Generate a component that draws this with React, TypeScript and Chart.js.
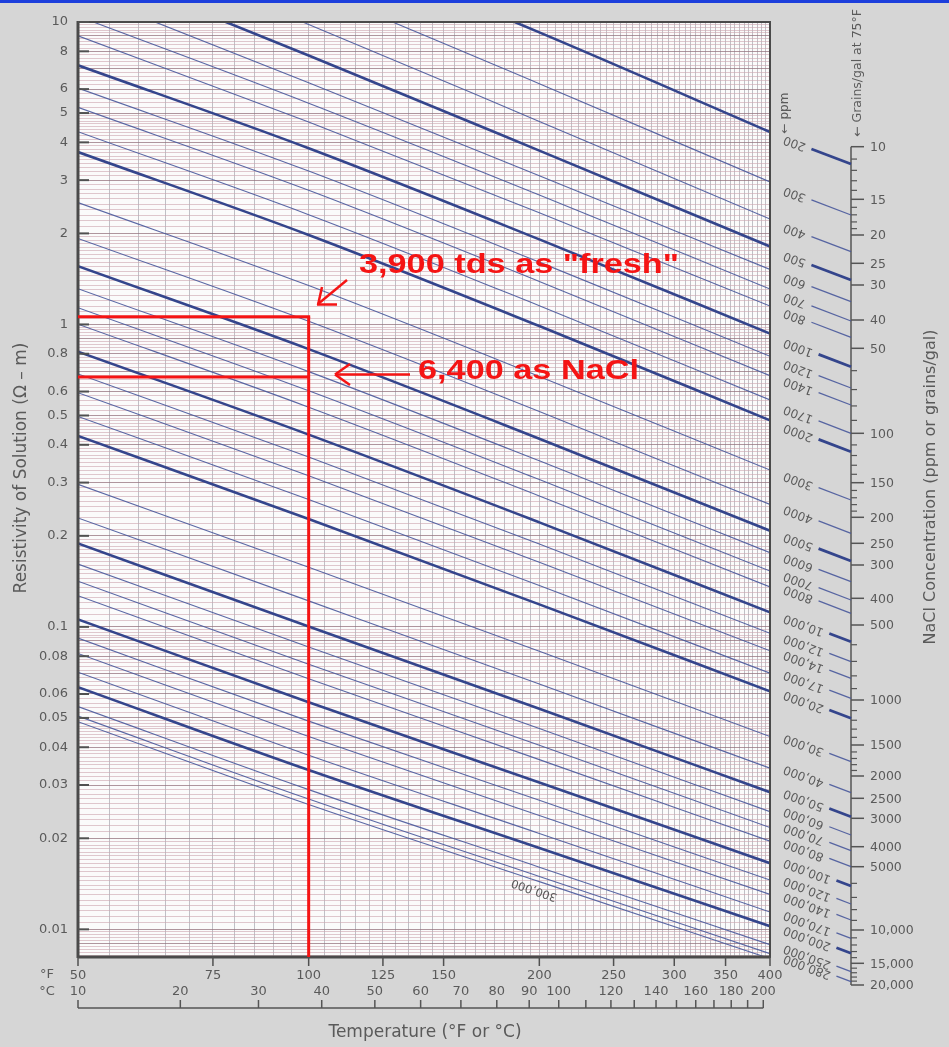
import React, { useEffect, useRef } from 'react';
import { Chart, registerables } from 'chart.js';

Chart.register(...registerables);

// ---------------- DATA ----------------
const concentrations = [
  200, 300, 400, 500, 600, 700, 800, 1000, 1200, 1400,
  1700, 2000, 3000, 4000, 5000, 6000, 7000, 8000, 10000, 12000,
  14000, 17000, 20000, 30000, 40000, 50000, 60000, 70000, 80000, 100000,
  120000, 140000, 170000, 200000, 250000, 280000, 300000,
];
const boldConcentrations = [200, 500, 1000, 2000, 5000, 10000, 20000, 50000, 100000, 200000];
const sampleTempsF = [50, 100, 200, 400];
const resistivityAt50F = [
  37.8, 26.1, 19.85, 15.74, 12.6, 10.45, 9.0, 7.192, 6.048, 5.22,
  4.338, 3.716, 2.528, 1.925, 1.559, 1.313, 1.136, 1.002, 0.8128, 0.6858,
  0.5945, 0.4961, 0.4278, 0.296, 0.2292, 0.1887, 0.1613, 0.1416, 0.1268, 0.1059,
  0.0918, 0.0817, 0.0708, 0.0632, 0.0545, 0.0507, 0.0486,
];
const resistivityAt100F = [
  19.0, 13.02, 9.82, 7.75, 6.3, 5.39, 4.67, 3.824, 3.216, 2.776,
  2.307, 1.976, 1.344, 1.024, 0.8287, 0.6982, 0.6038, 0.5327, 0.4322, 0.3646,
  0.3161, 0.2638, 0.2275, 0.1574, 0.1219, 0.1003, 0.0858, 0.0753, 0.0674, 0.0563,
  0.0488, 0.0434, 0.03766, 0.03362, 0.02897, 0.02696, 0.02585,
];
const resistivityAt200F = [
  9.24, 6.25, 4.69, 3.755, 3.1, 2.68, 2.34, 1.911, 1.607, 1.387,
  1.153, 0.988, 0.673, 0.515, 0.419, 0.354, 0.307, 0.271, 0.2216, 0.1879,
  0.1635, 0.1371, 0.1187, 0.0831, 0.0647, 0.0536, 0.0461, 0.0406, 0.0364, 0.0306,
  0.0267, 0.0238, 0.02075, 0.01856, 0.01605, 0.01496, 0.01438,
];
const resistivityAt400F = [
  4.33, 2.96, 2.23, 1.81, 1.52, 1.31, 1.15, 0.933, 0.785, 0.677,
  0.563, 0.482, 0.33, 0.254, 0.208, 0.176, 0.153, 0.1356, 0.1117, 0.0952,
  0.0834, 0.0703, 0.0612, 0.0434, 0.0341, 0.0284, 0.0245, 0.0217, 0.01956, 0.01654,
  0.01455, 0.01305, 0.01141, 0.01024, 0.0089, 0.00831, 0.008,
];

const yTickLabels = [10, 8, 6, 5, 4, 3, 2, 1, 0.8, 0.6, 0.5, 0.4, 0.3, 0.2, 0.1, 0.08, 0.06, 0.05, 0.04, 0.03, 0.02, 0.01];
const fahrenheitLabels = [50, 75, 100, 125, 150, 200, 250, 300, 350, 400];
const celsiusLabels = [10, 20, 30, 40, 50, 60, 70, 80, 90, 100, 120, 140, 160, 180, 200];
const celsiusMinorTicks = [110, 130, 150, 170, 190];

const grainLabels = ['10', '15', '20', '25', '30', '40', '50', '100', '150', '200', '250', '300', '400', '500', '1000', '1500', '2000', '2500', '3000', '4000', '5000', '10,000', '15,000', '20,000'];
const grainValues = [10, 15, 20, 25, 30, 40, 50, 100, 150, 200, 250, 300, 400, 500, 1000, 1500, 2000, 2500, 3000, 4000, 5000, 10000, 15000, 20000];
const grainMinorValues = [11, 12, 13, 14, 16, 17, 18, 19, 60, 70, 80, 90, 110, 120, 130, 140, 160, 170, 180, 190, 600, 700, 800, 900, 1100, 1200, 1300, 1400, 1600, 1700, 1800, 1900, 6000, 7000, 8000, 9000, 11000, 12000, 13000, 14000, 16000, 17000, 18000, 19000];

// annotation values
const markTempF = 100;
const freshResistivity = 1.06;
const naclResistivity = 0.67;

// ---------------- LAYOUT (positions only) ----------------
const W = 949;
const H = 1047;
const AREA = { left: 78, right: 770, top: 22, bottom: 957 };
const Y_MIN = 0.0081;
const Y_MAX = 10;
const ppmScaleY = [
  164, 215, 251.7, 280, 301.7, 321, 337.3, 366.7, 388, 405,
  433.3, 451.7, 500, 533.3, 561, 581.7, 600, 613.3, 641.7, 661.7,
  678.3, 698.3, 718.3, 761.7, 792.7, 816.7, 835, 850.7, 866.7, 886,
  904, 920, 938.3, 953.3, 971.7, 981.7, null,
];
const grainTickY = [146.7, 199.3, 235, 263.3, 285, 320, 348.3, 433.3, 482.7, 517.3, 543.3, 565, 598.3, 625, 700, 745, 776, 798.3, 818.3, 846.7, 866.7, 930, 963.3, 985];
const GRAIN_X = 851;

const FONT = '"DejaVu Sans", Verdana, sans-serif';
const RED_FONT = '"Liberation Sans", Arial, Helvetica, sans-serif';
const TEXT = '#5a5a5a';
const THIN = 'rgba(72,88,155,0.9)';
const BOLD = '#34458c';
const RED = '#f51414';

// grid values (decoration)
const mantissas: number[] = [];
for (let i = 0; i < 20; i++) mantissas.push(+(1 + i * 0.05).toFixed(2));
for (let i = 0; i < 30; i++) mantissas.push(+(2 + i * 0.1).toFixed(1));
for (let i = 0; i < 25; i++) mantissas.push(+(5 + i * 0.2).toFixed(1));
const yGrid: number[] = [];
for (const k of [-3, -2, -1, 0]) {
  for (const m of mantissas) {
    const v = +(m * Math.pow(10, k)).toPrecision(6);
    if (v >= Y_MIN && v <= Y_MAX) yGrid.push(v);
  }
}
yGrid.push(10);
const xGrid: number[] = [];
for (let t = 50; t <= 400; t += 5) xGrid.push(t);

const near = (a: number, b: number) => Math.abs(a - b) / b < 1e-6;
const fmtPpm = (c: number) => (c >= 10000 ? c.toLocaleString('en-US') : String(c));

function line(ctx: CanvasRenderingContext2D, x1: number, y1: number, x2: number, y2: number) {
  ctx.beginPath();
  ctx.moveTo(x1, y1);
  ctx.lineTo(x2, y2);
  ctx.stroke();
}

const backgroundPlugin = {
  id: 'bg',
  beforeDraw(chart: any) {
    const { ctx, chartArea: a } = chart;
    ctx.save();
    ctx.fillStyle = '#d6d6d6';
    ctx.fillRect(0, 0, W, H);
    ctx.fillStyle = '#1d3fdc';
    ctx.fillRect(0, 0, W, 3);
    ctx.fillStyle = '#fbfbfb';
    ctx.fillRect(a.left, a.top, a.right - a.left, a.bottom - a.top);
    ctx.restore();
  },
};

const overlayPlugin = {
  id: 'overlay',
  afterDraw(chart: any) {
    const { ctx, chartArea: a, scales } = chart;
    const xs = scales.x;
    const ys = scales.y;
    ctx.save();

    // frame
    ctx.strokeStyle = '#4a4a4a';
    ctx.lineWidth = 2;
    ctx.strokeRect(a.left, a.top, a.right - a.left, a.bottom - a.top);
    ctx.lineWidth = 3;
    line(ctx, a.left, a.top - 1, a.left, a.bottom + 1);
    line(ctx, a.left, a.bottom, a.right, a.bottom);

    // y tick dashes (inside)
    ctx.strokeStyle = '#505050';
    ctx.lineWidth = 2;
    yTickLabels.forEach((v) => {
      const py = ys.getPixelForValue(v);
      line(ctx, a.left, py, a.left + 11, py);
    });
    // x tick marks (below)
    ctx.lineWidth = 1.5;
    fahrenheitLabels.forEach((v) => {
      const px = xs.getPixelForValue(v);
      line(ctx, px, a.bottom, px, a.bottom + 9);
    });

    // unit markers
    ctx.fillStyle = TEXT;
    ctx.font = `13px ${FONT}`;
    ctx.textAlign = 'center';
    ctx.textBaseline = 'middle';
    ctx.fillText('°F', 47, 975);
    ctx.fillText('°C', 47, 992);

    // celsius axis
    const cy = 1008;
    const cToF = (c: number) => c * 1.8 + 32;
    ctx.strokeStyle = '#555';
    ctx.lineWidth = 1.5;
    line(ctx, xs.getPixelForValue(cToF(10)), cy, xs.getPixelForValue(cToF(200)), cy);
    [...celsiusLabels, ...celsiusMinorTicks].forEach((c) => {
      const px = xs.getPixelForValue(cToF(c));
      line(ctx, px, cy, px, cy - 8);
    });
    celsiusLabels.forEach((c) => {
      ctx.fillText(String(c), xs.getPixelForValue(cToF(c)), 992);
    });

    // axis titles
    ctx.font = `17px ${FONT}`;
    ctx.fillText('Temperature (°F or °C)', 425, 1033);
    ctx.save();
    ctx.translate(22, 468);
    ctx.rotate(-Math.PI / 2);
    ctx.fillText('Resistivity of Solution (\u03A9 \u2013 m)', 0, 0);
    ctx.restore();
    ctx.save();
    ctx.translate(931, 487);
    ctx.rotate(-Math.PI / 2);
    ctx.font = `16px ${FONT}`;
    ctx.fillText('NaCl Concentration (ppm or grains/gal)', 0, 0);
    ctx.restore();
    ctx.save();
    ctx.translate(785, 113);
    ctx.rotate(-Math.PI / 2);
    ctx.font = `12px ${FONT}`;
    ctx.fillText('\u2190 ppm', 0, 0);
    ctx.restore();
    ctx.save();
    ctx.translate(858, 73);
    ctx.rotate(-Math.PI / 2);
    ctx.font = `12.5px ${FONT}`;
    ctx.fillText('\u2190 Grains/gal at 75°F', 0, 0);
    ctx.restore();

    // grain scale
    ctx.strokeStyle = '#555';
    ctx.lineWidth = 1.5;
    line(ctx, GRAIN_X, grainTickY[0], GRAIN_X, grainTickY[grainTickY.length - 1]);
    ctx.font = `12.5px ${FONT}`;
    ctx.textAlign = 'left';
    grainValues.forEach((g, i) => {
      const py = grainTickY[i];
      line(ctx, GRAIN_X, py, GRAIN_X + 13, py);
      ctx.fillText(grainLabels[i], GRAIN_X + 19, py + 1);
    });
    ctx.lineWidth = 1.2;
    grainMinorValues.forEach((g) => {
      let j = 0;
      while (j < grainValues.length - 2 && grainValues[j + 1] < g) j++;
      const g0 = grainValues[j];
      const g1 = grainValues[j + 1];
      const f = Math.log(g / g0) / Math.log(g1 / g0);
      const py = grainTickY[j] + f * (grainTickY[j + 1] - grainTickY[j]);
      line(ctx, GRAIN_X, py, GRAIN_X + 6, py);
    });

    // ppm labels with leaders (printed upside down along the slope)
    const ALPHA = 0.36;
    ctx.font = `12px ${FONT}`;
    ctx.textAlign = 'center';
    ctx.textBaseline = 'middle';
    concentrations.forEach((c, i) => {
      const yEnd = ppmScaleY[i];
      if (yEnd == null) return;
      const bold = boldConcentrations.includes(c);
      const label = fmtPpm(c);
      const w = ctx.measureText(label).width * Math.cos(ALPHA);
      const cx = 784 + w / 2;
      const sx = 784 + w + 6;
      const sy = yEnd - (GRAIN_X - sx) * 0.38;
      ctx.strokeStyle = bold ? BOLD : THIN;
      ctx.lineWidth = bold ? 2.8 : 1.3;
      line(ctx, sx, sy, GRAIN_X, yEnd);
      const ty = sy - (sx - cx) * 0.3 - 1;
      ctx.save();
      ctx.translate(cx, ty);
      ctx.rotate(Math.PI + ALPHA);
      ctx.fillStyle = TEXT;
      ctx.fillText(label, 0, 0);
      ctx.restore();
    });

    // in-plot 300,000 label
    const last = concentrations.length - 1;
    ctx.save();
    ctx.translate(xs.getPixelForValue(197), ys.getPixelForValue(resistivityAt200F[last]) + 8);
    ctx.rotate(Math.PI + 0.33);
    ctx.fillStyle = TEXT;
    ctx.font = `11.5px ${FONT}`;
    ctx.fillText(fmtPpm(concentrations[last]), 0, 0);
    ctx.restore();

    // red annotations
    const px100 = xs.getPixelForValue(markTempF);
    const pyFresh = ys.getPixelForValue(freshResistivity);
    const pyNacl = ys.getPixelForValue(naclResistivity);
    ctx.strokeStyle = RED;
    ctx.lineWidth = 3;
    line(ctx, a.left, pyFresh, px100 + 1.5, pyFresh);
    line(ctx, a.left, pyNacl, px100, pyNacl);
    line(ctx, px100, pyFresh, px100, a.bottom);
    ctx.lineWidth = 2.5;
    line(ctx, 347, 280, 318, 304);
    line(ctx, 317, 304.5, 337, 304.5);
    line(ctx, 318, 305, 322, 287);
    line(ctx, 410, 374.5, 336, 374.5);
    line(ctx, 335, 374.5, 350, 364);
    line(ctx, 335, 374.5, 350, 385);

    ctx.fillStyle = RED;
    ctx.font = `bold 28px ${RED_FONT}`;
    ctx.textAlign = 'left';
    ctx.textBaseline = 'alphabetic';
    const drawFit = (txt: string, x: number, y: number, width: number) => {
      const m = ctx.measureText(txt).width;
      ctx.save();
      ctx.translate(x, y);
      ctx.scale(width / m, 1);
      ctx.fillText(txt, 0, 0);
      ctx.restore();
    };
    drawFit('3,900 tds as "fresh"', 359, 273, 320);
    drawFit('6,400 as NaCl', 418, 379, 221);

    ctx.restore();
  },
};

export default function App() {
  const ref = useRef<HTMLCanvasElement>(null);

  useEffect(() => {
    if (!ref.current) return;
    Chart.defaults.font.family = FONT;
    const datasets = concentrations.map((c, i) => {
      const bold = boldConcentrations.includes(c);
      const vals = [resistivityAt50F[i], resistivityAt100F[i], resistivityAt200F[i], resistivityAt400F[i]];
      return {
        label: fmtPpm(c) + ' ppm',
        data: sampleTempsF.map((t, k) => ({ x: t, y: vals[k] })),
        borderColor: bold ? BOLD : THIN,
        borderWidth: bold ? 2.6 : 1.1,
        pointRadius: 0,
        cubicInterpolationMode: 'monotone' as const,
        fill: false,
      };
    });

    const chart = new Chart(ref.current, {
      type: 'line',
      data: { datasets },
      options: {
        animation: false,
        responsive: false,
        maintainAspectRatio: false,
        devicePixelRatio: 1,
        events: [],
        layout: { padding: { left: 0, top: AREA.top, right: W - AREA.right, bottom: 0 } },
        plugins: { legend: { display: false }, tooltip: { enabled: false }, title: { display: false } },
        scales: {
          x: {
            type: 'logarithmic',
            min: 50,
            max: 400,
            position: 'bottom',
            afterFit: (s: any) => {
              s.height = H - AREA.bottom;
              s.paddingLeft = 0;
              s.paddingRight = 0;
            },
            afterBuildTicks: (s: any) => {
              s.ticks = xGrid.map((v) => ({ value: v }));
            },
            ticks: {
              autoSkip: false,
              maxRotation: 0,
              minRotation: 0,
              padding: 11,
              color: TEXT,
              font: { size: 13, family: FONT },
              callback: (v: any) => {
                const n = Number(v);
                return fahrenheitLabels.some((f) => near(n, f)) ? String(Math.round(n)) : '';
              },
            },
            grid: {
              drawTicks: false,
              color: () => 'rgba(120,120,132,0.45)',
              lineWidth: 1,
            },
            border: { display: false },
          },
          y: {
            type: 'logarithmic',
            min: Y_MIN,
            max: Y_MAX,
            position: 'left',
            afterFit: (s: any) => {
              s.width = AREA.left;
              s.paddingTop = 0;
              s.paddingBottom = 0;
            },
            afterBuildTicks: (s: any) => {
              s.ticks = yGrid.map((v) => ({ value: v }));
            },
            ticks: {
              autoSkip: false,
              padding: 10,
              color: TEXT,
              font: { size: 13, family: FONT },
              callback: (v: any) => {
                const n = Number(v);
                const hit = yTickLabels.find((t) => near(n, t));
                return hit !== undefined ? String(hit) : '';
              },
            },
            grid: {
              drawTicks: false,
              lineWidth: 1,
              color: (ctx: any) => {
                const v = ctx.tick ? ctx.tick.value : 1;
                const m = v / Math.pow(10, Math.floor(Math.log10(v) + 1e-9));
                return Math.abs(m - Math.round(m)) < 1e-6 ? 'rgba(150,115,125,0.75)' : 'rgba(205,165,175,0.6)';
              },
            },
            border: { display: false },
          },
        },
      },
      plugins: [backgroundPlugin, overlayPlugin],
    } as any);

    return () => chart.destroy();
  }, []);

  return (
    <div style={{ position: 'absolute', left: 0, top: 0, width: W, height: H }}>
      <canvas ref={ref} width={W} height={H} style={{ display: 'block', width: W, height: H }} />
    </div>
  );
}
